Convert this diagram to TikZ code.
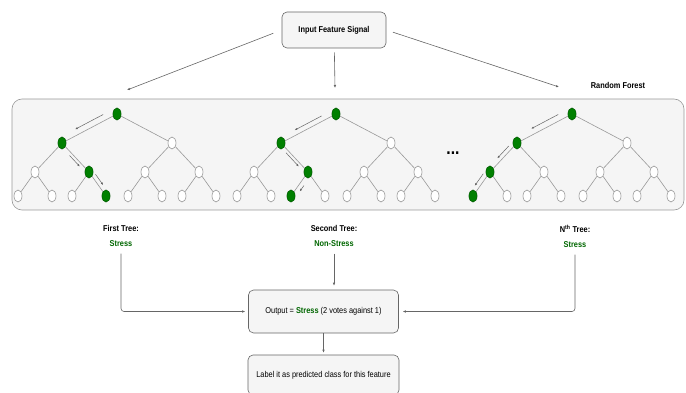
\documentclass[tikz,border=0pt]{standalone}
\usepackage{fontspec}
\setmainfont{Liberation Sans}[FakeStretch=0.87]
\usetikzlibrary{shapes.geometric,calc,arrows.meta}

\definecolor{boxfill}{HTML}{F5F5F5}
\definecolor{boxline}{HTML}{666666}
\definecolor{treeline}{HTML}{999999}
\definecolor{nodegreen}{HTML}{008000}
\definecolor{textgreen}{HTML}{006600}

\tikzset{
  box/.style={draw=boxline, fill=boxfill, rounded corners=5pt, line width=0.6pt},
  tnode/.style={ellipse, draw=treeline, fill=white, minimum width=8pt,
    minimum height=12pt, inner sep=0pt, line width=0.6pt},
  gnode/.style={fill=nodegreen, draw=nodegreen!80!black},
  tedge/.style={draw=treeline, line width=0.6pt},
  conn/.style={draw=boxline, line width=0.6pt, -{Latex[length=3pt,width=2.6pt]}},
  parrow/.style={draw=boxline, line width=0.5pt, -{Latex[length=2.6pt,width=2.2pt]}},
}

\begin{document}
\begin{tikzpicture}[x=1pt, y=-1pt, font=\fontsize{8.5}{15}\selectfont]
  \useasboundingbox (0,0) rectangle (686,393);
  \clip (0,0) rectangle (686,393);

  % input and forest
  \node[box, minimum width=104pt, minimum height=36pt] (input) at (334,30)
    {\textbf{Input Feature Signal}};
  \node[box, draw=treeline, rounded corners=10pt, minimum width=672pt,
    minimum height=111pt] (forest) at (348,154.5) {};
  \node (rflabel) at (618,85) {\textbf{Random Forest}};

  \coordinate (in1) at (127,90);
  \coordinate (in2) at (335,88);
  \coordinate (in3) at (559,87);
  \draw[conn, shorten <=9pt] (input.west) -- (in1);
  \draw[conn, shorten <=4pt] (input) -- (in2);
  \draw[conn, shorten <=7pt] (input.east) -- (in3);

  % trees
  \foreach \t/\x in {1/117, 2/336, 3/572} {
    \node[tnode] (t\t-r) at (\x,114) {};
    \node[tnode] (t\t-a) at (\x-55,143) {};
    \node[tnode] (t\t-b) at (\x+55,143) {};
    \foreach \n/\dx in {aa/-82, ab/-28, ba/28, bb/82}
      \node[tnode] (t\t-\n) at (\x+\dx,172) {};
    \foreach \n/\dx in {aaa/-99, aab/-65, aba/-45, abb/-11, baa/11, bab/45, bba/65, bbb/99}
      \node[tnode] (t\t-\n) at (\x+\dx,196) {};
    \foreach \p/\c in {r/a, r/b, a/aa, a/ab, b/ba, b/bb, aa/aaa, aa/aab,
        ab/aba, ab/abb, ba/baa, ba/bab, bb/bba, bb/bbb}
      \draw[tedge] (t\t-\p) -- (t\t-\c);
  }

  % chosen paths
  \foreach \n in {1-r, 1-a, 1-ab, 1-abb, 2-r, 2-a, 2-ab, 2-aba, 3-r, 3-a, 3-aa, 3-aaa}
    \node[tnode, gnode] at (t\n) {};
  \foreach \a/\b/\s/\d/\f/\g in {
      1-r/1-a/-90/6pt/0.2/0.71, 1-a/1-ab/-90/3pt/0.36/0.74, 1-ab/1-abb/90/4pt/0.19/0.64,
      2-r/2-a/-90/5pt/0.22/0.71, 2-a/2-ab/-90/3pt/0.27/0.74, 2-ab/2-aba/90/4.5pt/0.46/0.7,
      3-r/3-a/-90/6pt/0.2/0.69, 3-a/3-aa/-90/4pt/0.2/0.62, 3-aa/3-aaa/-90/4.5pt/0.18/0.68}
    \draw[parrow] ($(t\a)!\f!(t\b)!\d!\s:(t\b)$) -- ($(t\a)!\g!(t\b)!\d!\s:(t\b)$);

  \node[font=\fontsize{18}{18}\selectfont\bfseries] (dots) at (453,153) {...};

  % votes
  \node[align=center] (lab1) at (121,235.5)
    {\textbf{First Tree:}\\\textbf{\textcolor{textgreen}{Stress}}};
  \node[align=center] (lab2) at (334,235.5)
    {\textbf{Second Tree:}\\\textbf{\textcolor{textgreen}{Non-Stress}}};
  \node[align=center] (labn) at (575,236)
    {\textbf{N\textsuperscript{th} Tree:}\\\textbf{\textcolor{textgreen}{Stress}}};

  \node[box, minimum width=150pt, minimum height=43pt] (output) at (323.5,311.5)
    {Output = \textbf{\textcolor{textgreen}{Stress}} (2 votes against 1)};
  \node[box, minimum width=151pt, minimum height=40pt] (label) at (323.5,375)
    {Label it as predicted class for this feature};

  \draw[conn, rounded corners=3pt, shorten <=4pt, shorten >=3pt] (lab1) |- (output.west);
  \draw[conn, shorten <=4pt, shorten >=4pt] (lab2) -- (lab2 |- output.north);
  \draw[conn, rounded corners=3pt, shorten <=4pt, shorten >=4pt] (labn) |- (output.east);
  \draw[conn, shorten >=2pt] (output) -- (label);
\end{tikzpicture}
\end{document}
